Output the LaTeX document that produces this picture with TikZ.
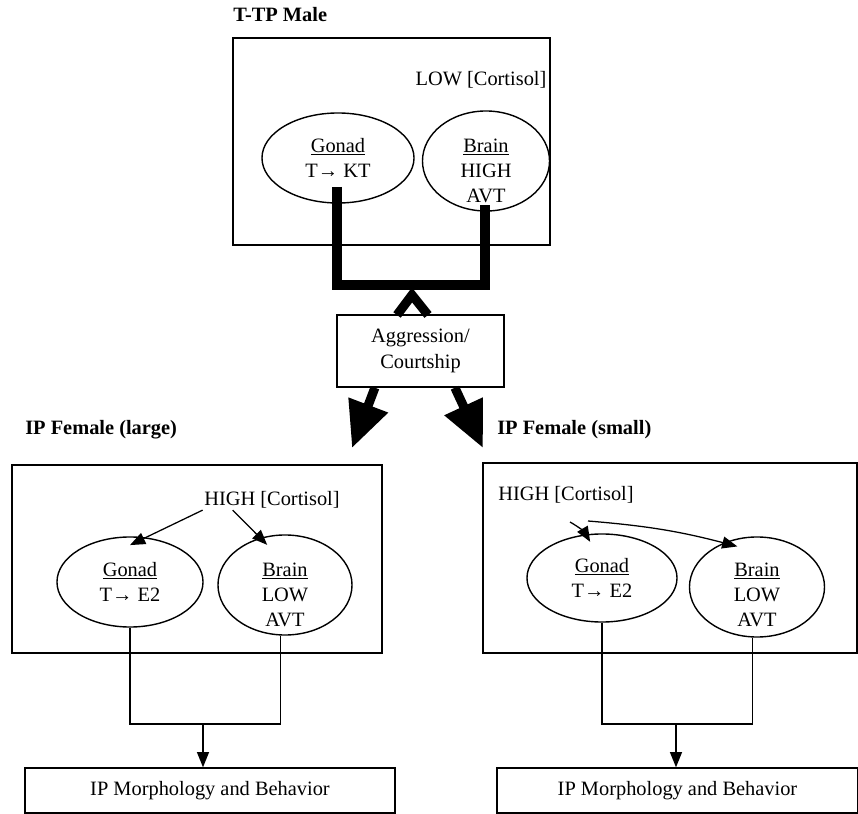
\documentclass[tikz,border=0pt]{standalone}
\usepackage{fontspec}
\setmainfont{Liberation Serif}
\usetikzlibrary{arrows.meta,positioning,calc,shapes.geometric}

\begin{document}
\begin{tikzpicture}[x=0.025cm, y=-0.025cm,
  >={Triangle[length=0.38cm,width=0.3cm]},
  every node/.style={font=\fontsize{14.5}{18}\selectfont},
  panel/.style={draw, line width=1pt, inner sep=0pt, align=center},
  organ/.style={draw, ellipse, line width=1pt, inner sep=0pt, align=center},
  txt/.style={inner sep=1pt, align=center},
  title/.style={anchor=west, inner sep=0pt, font=\fontsize{14.5}{18}\selectfont\bfseries},
  heavy/.style={line width=6.5pt, line join=miter},
  link/.style={line width=0.9pt}]
  \useasboundingbox (0,0) rectangle (858,814);

  % T-TP male
  \node[title] (maleT) at (233,15) {T-TP Male};
  \node[panel, minimum width=7.925cm, minimum height=5.175cm] (male) at (391.5,141.5) {};
  \node[txt] (lowC) at (481,80) {LOW [Cortisol]};
  \node[organ, minimum width=3.8cm, minimum height=2.25cm] (gonadM) at (338,158) {\underline{Gonad}\\T→ KT};
  \node[organ, minimum width=3.175cm, minimum height=2.5cm] (brainM) at (486,161) {};
  \node[txt] (brainMtext) at ([yshift=-0.25cm]brainM.center) {\underline{Brain}\\HIGH\\AVT};

  % behaviour box and heavy connectors
  \node[panel, minimum width=4.175cm, minimum height=1.8cm] (aggr) at (420.5,351) {Aggression/\\Courtship};
  \coordinate (gM) at (337,187);
  \coordinate (bM) at (485,205);
  \coordinate (joinM) at (411,285);
  \coordinate (apex) at (412,295);
  \coordinate (tentL) at (397,315);
  \coordinate (tentR) at (428,315);
  \draw[heavy] (gM) |- (joinM) -| (bM);
  \draw[heavy] (tentL) -- (apex) -- (tentR);
  \coordinate (tipL) at (352,448);
  \coordinate (tipR) at (483,448);
  \draw[heavy, -{Triangle[length=1.15cm,width=1cm]}] ([xshift=-1.14cm]aggr.south) -- (tipL);
  \draw[heavy, -{Triangle[length=1.15cm,width=1cm]}] ([xshift=0.86cm]aggr.south) -- (tipR);

  % IP female (large)
  \node[title] (bigT) at (25,430) {IP Female (large)};
  \node[panel, minimum width=9.25cm, minimum height=4.7cm] (big) at (197,559) {};
  \node[txt] (hiL) at (272,500) {HIGH [Cortisol]};
  \node[organ, minimum width=3.65cm, minimum height=2.25cm] (gonadL) at (130,582) {\underline{Gonad}\\T→ E2};
  \node[organ, minimum width=3.35cm, minimum height=2.5cm] (brainL) at (285,585) {};
  \node[txt] (brainLtext) at ([yshift=-0.25cm]brainL.center) {\underline{Brain}\\LOW\\AVT};
  \draw[link,->] (hiL.south west) -- ([yshift=-0.22cm]gonadL.north);
  \draw[link,->] ([xshift=0.75cm]hiL.south west) -- ([yshift=-0.22cm]brainL.110);
  \coordinate (joinL) at (203,724);
  \draw[link] (gonadL.south) |- (joinL) -| (brainL.265);
  \node[panel, minimum width=9.25cm, minimum height=1.125cm] (behL) at (210,790.5) {IP Morphology and Behavior};
  \draw[link,->] (joinL) -- (joinL |- behL.north);

  % IP female (small)
  \node[title] (smallT) at (497,430) {IP Female (small)};
  \node[panel, minimum width=9.35cm, minimum height=4.75cm] (small) at (670,558) {};
  \node[txt] (hiR) at (566,495) {HIGH [Cortisol]};
  \node[organ, minimum width=3.75cm, minimum height=2.2cm] (gonadR) at (602,578) {\underline{Gonad}\\T→ E2};
  \node[organ, minimum width=3.375cm, minimum height=2.5cm] (brainR) at (757,587) {};
  \node[txt] (brainRtext) at ([yshift=-0.2cm]brainR.center) {\underline{Brain}\\LOW\\AVT};
  \coordinate (cR1) at (570,522);
  \coordinate (cR2) at (588,521);
  \draw[link,->] (cR1) to[bend left=15] ([yshift=-0.2cm]gonadR.105);
  \draw[link,->] (cR2) to[bend left=5] ([yshift=-0.2cm]brainR.112);
  \coordinate (joinR) at (676,724);
  \draw[link] (gonadR.south) |- (joinR) -| (brainR.265);
  \node[panel, minimum width=9.025cm, minimum height=1.125cm] (behR) at (677.5,790.5) {IP Morphology and Behavior};
  \draw[link,->] (joinR) -- (joinR |- behR.north);
\end{tikzpicture}
\end{document}
